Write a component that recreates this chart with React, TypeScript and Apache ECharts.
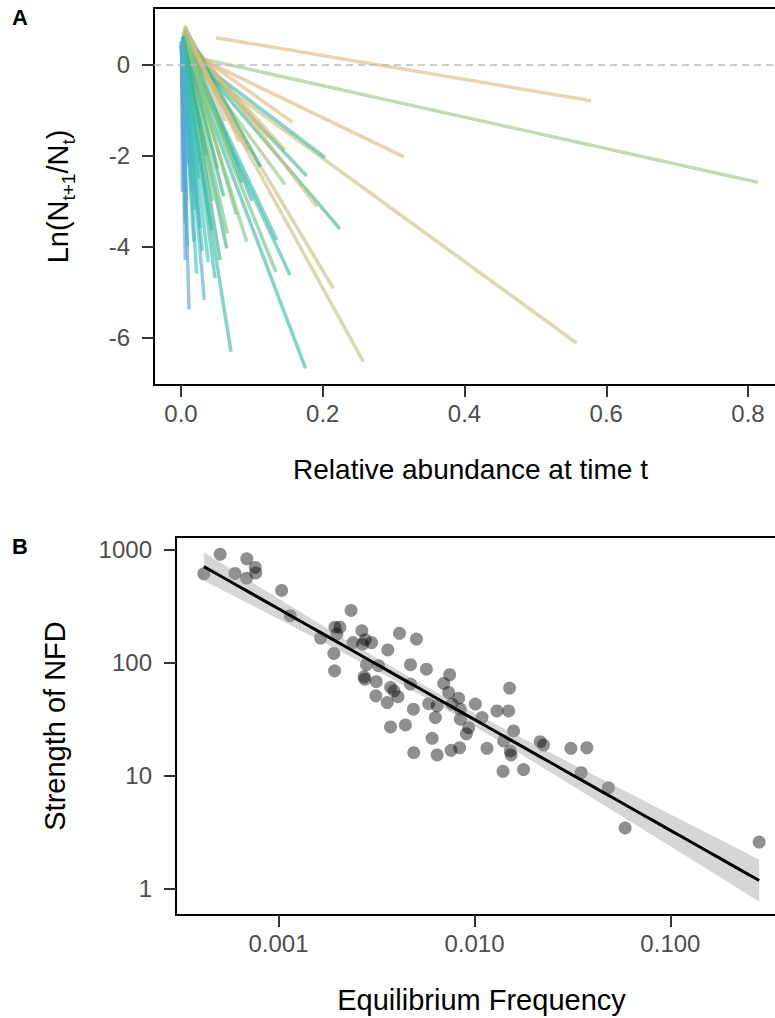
import React, { useEffect, useRef } from "react";
import * as echarts from "echarts";

const FONT = "'Liberation Sans', Arial, Helvetica, sans-serif";

// ---------- Panel A: one fitted segment per species ----------
const segStartX = [0.0494, 0.0028, 0.0028, 0.0169, 0.0099, 0.0071, 0.0028, 0.0028, 0.0028, 0.0028, 0.0071, 0.0028, 0.0028, 0.0042, 0.0042, 0.0028, 0.0014, 0.0007, 0.0014, 0.0014, 0.0007, 0.0014, 0.0014, 0.0028, 0.0028, 0.0028, 0.0028, 0.0042, 0.0007, 0.0007, 0.0007, 0.0014, 0.0014, 0.0021, 0.0021, 0.0028, 0.0028, 0.0035, 0.0035, 0.0042, 0.0042, 0.0049, 0.0056, 0.0056, 0.0049, 0.0042, 0.0028, 0.0014, 0.0021, 0.0014, 0.0035, 0.0042, 0.0007, 0.0021, 0.0035, 0.0028, 0.0007, 0.0007, 0.0014];
const segStartY = [0.585, 0.213, 0.171, 0.204, 0.358, 0.534, 0.314, 0.424, 0.424, 0.424, 0.644, 0.424, 0.49, 0.578, 0.622, 0.424, 0.424, 0.446, 0.446, 0.446, 0.446, 0.446, 0.49, 0.534, 0.534, 0.578, 0.534, 0.644, 0.42, 0.45, 0.4, 0.48, 0.5, 0.55, 0.5, 0.6, 0.6, 0.65, 0.65, 0.7, 0.7, 0.75, 0.8, 0.82, 0.86, 0.8, 0.7, 0.5, 0.52, 0.47, 0.7, 0.75, 0.5, 0.6, 0.62, 0.58, 0.5, 0.45, 0.5];
const segEndX = [0.5785, 0.8137, 0.5583, 0.3146, 0.1576, 0.1467, 0.2032, 0.1774, 0.1467, 0.2243, 0.1915, 0.1538, 0.134, 0.2149, 0.2572, 0.1757, 0.0705, 0.0113, 0.0329, 0.0385, 0.0056, 0.0268, 0.0433, 0.0645, 0.0653, 0.0927, 0.135, 0.1232, 0.004, 0.008, 0.006, 0.015, 0.02, 0.025, 0.03, 0.035, 0.045, 0.052, 0.06, 0.078, 0.086, 0.1, 0.112, 0.082, 0.062, 0.05, 0.04, 0.012, 0.022, 0.018, 0.095, 0.07, 0.003, 0.028, 0.055, 0.048, 0.002, 0.009, 0.01];
const segEndY = [-0.8, -2.593, -6.13, -2.035, -1.275, -1.884, -2.048, -2.455, -2.642, -3.615, -3.13, -4.63, -4.565, -4.923, -6.536, -6.681, -6.316, -5.385, -5.18, -4.338, -3.494, -3.604, -3.642, -4.044, -3.714, -3.899, -3.862, -1.591, -2.3, -3.0, -4.3, -2.8, -3.2, -2.5, -4.1, -2.0, -3.0, -2.3, -2.9, -3.3, -2.6, -3.0, -2.25, -1.7, -1.25, -0.65, -1.05, -1.6, -4.6, -3.9, -1.9, -2.0, -1.2, -1.4, -4.3, -4.7, -2.8, -4.0, -2.2];
// colour variable of each segment (0 = blue ... 1 = tan)
const segColorValue = [1.0, 0.72, 0.88, 0.95, 1.0, 0.97, 0.38, 0.55, 0.7, 0.45, 0.95, 0.36, 0.62, 0.85, 0.85, 0.4, 0.38, 0.05, 0.2, 0.3, 0.0, 0.15, 0.42, 0.5, 0.62, 0.66, 0.36, 0.98, 0.0, 0.05, 0.08, 0.18, 0.3, 0.35, 0.33, 0.5, 0.65, 0.68, 0.5, 0.66, 0.55, 0.38, 0.5, 0.98, 0.9, 1.0, 0.7, 0.2, 0.34, 0.25, 0.95, 0.68, 0.05, 0.35, 0.5, 0.36, 0.02, 0.1, 0.12];

const aXTicks = [0, 0.2, 0.4, 0.6, 0.8];
const aYTicks = [-6, -4, -2, 0];

// ---------- Panel B: equilibrium frequency vs strength of NFD ----------
const eqFreq = [0.000416, 0.000504, 0.0006, 0.000689, 0.000761, 0.000765, 0.000687, 0.001038, 0.001148, 0.002346, 0.001941, 0.002057, 0.001986, 0.001641, 0.002663, 0.002773, 0.002985, 0.002685, 0.002402, 0.001917, 0.001933, 0.002734, 0.00276, 0.002815, 0.003239, 0.003157, 0.003613, 0.004144, 0.005058, 0.004716, 0.005689, 0.003731, 0.003886, 0.004072, 0.003589, 0.003139, 0.004883, 0.006969, 0.007475, 0.005844, 0.006449, 0.004716, 0.007387, 0.008307, 0.006321, 0.007687, 0.008476, 0.01011, 0.008476, 0.01093, 0.01511, 0.01303, 0.01494, 0.003731, 0.004446, 0.009344, 0.009094, 0.01584, 0.01409, 0.006081, 0.004901, 0.006449, 0.007597, 0.008405, 0.01159, 0.01524, 0.01537, 0.01399, 0.01781, 0.02166, 0.02252, 0.03105, 0.03748, 0.03506, 0.04829, 0.05872, 0.2838];
const nfdStrength = [607, 904, 612, 824, 692, 619, 556, 433, 259, 288, 205, 205, 178, 164, 191, 159, 150, 145, 150, 120, 84.3, 74.6, 71.0, 95.5, 93.5, 67.6, 129, 181, 161, 95.5, 87.1, 60.3, 56.1, 49.8, 44.2, 50.7, 38.6, 65.2, 77.8, 43.2, 41.3, 64.3, 54.2, 48.3, 32.5, 42.8, 38.6, 42.8, 31.5, 32.5, 59.3, 37.2, 37.2, 26.9, 28.0, 26.5, 23.4, 24.8, 20.2, 21.3, 15.9, 15.2, 16.7, 17.6, 17.4, 16.5, 15.2, 10.9, 11.3, 19.9, 18.6, 17.4, 17.6, 10.6, 7.78, 3.44, 2.58];

const bXTicks = [0.001, 0.01, 0.1];
const bXTickLabels = ["0.001", "0.010", "0.100"];
const bYTicks = [1, 10, 100, 1000];
const bYTickLabels = ["1", "10", "100", "1000"];

// palette for panel A
const paletteStops = [0, 0.3, 0.5, 0.7, 0.85, 1];
const paletteColors = ["#5f9fdb", "#3dbfc0", "#35b386", "#94c77c", "#c5bf80", "#dbba7e"];

function hexToRgb(h: string) {
  const n = parseInt(h.slice(1), 16);
  return [(n >> 16) & 255, (n >> 8) & 255, n & 255];
}
function colorFor(v: number) {
  for (let i = 0; i < paletteStops.length - 1; i++) {
    if (v <= paletteStops[i + 1]) {
      const t = (v - paletteStops[i]) / (paletteStops[i + 1] - paletteStops[i]);
      const a = hexToRgb(paletteColors[i]);
      const b = hexToRgb(paletteColors[i + 1]);
      const c = a.map((x, k) => Math.round(x + (b[k] - x) * t));
      return `rgb(${c[0]},${c[1]},${c[2]})`;
    }
  }
  return paletteColors[paletteColors.length - 1];
}

// linear model on log10 scales (as geom_smooth(method = "lm"))
function fitModel() {
  const lx = eqFreq.map((v) => Math.log10(v));
  const ly = nfdStrength.map((v) => Math.log10(v));
  const n = lx.length;
  const mx = lx.reduce((s, v) => s + v, 0) / n;
  const my = ly.reduce((s, v) => s + v, 0) / n;
  let sxx = 0, sxy = 0;
  for (let i = 0; i < n; i++) {
    sxx += (lx[i] - mx) ** 2;
    sxy += (lx[i] - mx) * (ly[i] - my);
  }
  const b = sxy / sxx;
  const a = my - b * mx;
  let sse = 0;
  for (let i = 0; i < n; i++) sse += (ly[i] - a - b * lx[i]) ** 2;
  const s = Math.sqrt(sse / (n - 2));
  const tq = 1.9925;
  const x0 = Math.min(...lx), x1 = Math.max(...lx);
  const line: number[][] = [], lo: number[][] = [], hi: number[][] = [];
  for (let k = 0; k < 80; k++) {
    const x = x0 + ((x1 - x0) * k) / 79;
    const yh = a + b * x;
    const se = s * Math.sqrt(1 / n + (x - mx) ** 2 / sxx);
    line.push([x, yh]);
    lo.push([x, yh - tq * se]);
    hi.push([x, yh + tq * se]);
  }
  return { lx, ly, line, lo, hi };
}

const axisBase = {
  axisLine: { show: true, onZero: false, lineStyle: { color: "#000", width: 2 } },
  axisTick: { show: true, length: 12, lineStyle: { color: "#333", width: 2 } },
  splitLine: { show: false },
};
const tickLabel = { color: "#4d4d4d", fontSize: 24, fontFamily: FONT };
const titleStyle = { color: "#000", fontSize: 29, fontFamily: FONT };

export default function App() {
  const ref = useRef<HTMLDivElement>(null);
  useEffect(() => {
    if (!ref.current) return;
    const chart = echarts.init(ref.current, undefined, { renderer: "svg" });
    const { lx, ly, line, lo, hi } = fitModel();

    const segData = segStartX.map((_, i) => ({
      coords: [
        [segStartX[i], segStartY[i]],
        [segEndX[i], segEndY[i]],
      ],
      lineStyle: { color: colorFor(segColorValue[i]) },
    }));

    const bxLog = bXTicks.map((v) => Math.log10(v));
    const byLog = bYTicks.map((v) => Math.log10(v));
    const labelFrom = (vals: number[], labels: string[]) => (v: number) => {
      let best = 0;
      vals.forEach((t, i) => {
        if (Math.abs(t - v) < Math.abs(vals[best] - v)) best = i;
      });
      return labels[best];
    };

    chart.setOption({
      animation: false,
      backgroundColor: "#fff",
      textStyle: { fontFamily: FONT },
      grid: [
        { left: 154, top: 8, width: 633, height: 377 },
        { left: 176, top: 537, width: 611, height: 378 },
      ],
      xAxis: [
        {
          ...axisBase,
          type: "value",
          gridIndex: 0,
          min: -0.0381,
          max: 0.855,
          axisTick: { ...axisBase.axisTick, customValues: aXTicks },
          axisLabel: { ...tickLabel, margin: 16, customValues: aXTicks, formatter: (v: number) => v.toFixed(1) },
          name: "Relative abundance at time t",
          nameLocation: "middle",
          nameGap: 70,
          nameTextStyle: { ...titleStyle, fontSize: 28 },
        },
        {
          type: "value",
          gridIndex: 0,
          position: "top",
          min: -0.0381,
          max: 0.855,
          axisLine: { show: true, onZero: false, lineStyle: { color: "#000", width: 2 } },
          axisTick: { show: false },
          axisLabel: { show: false },
          splitLine: { show: false },
        },
        {
          ...axisBase,
          type: "value",
          gridIndex: 1,
          min: -3.523,
          max: -0.405,
          axisTick: { ...axisBase.axisTick, customValues: bxLog },
          axisLabel: { ...tickLabel, margin: 16, customValues: bxLog, formatter: labelFrom(bxLog, bXTickLabels) },
          name: "Equilibrium Frequency",
          nameLocation: "middle",
          nameGap: 70,
          nameTextStyle: titleStyle,
        },
        {
          type: "value",
          gridIndex: 1,
          position: "top",
          min: -3.523,
          max: -0.405,
          axisLine: { show: true, onZero: false, lineStyle: { color: "#000", width: 2 } },
          axisTick: { show: false },
          axisLabel: { show: false },
          splitLine: { show: false },
        },
      ],
      yAxis: [
        {
          ...axisBase,
          type: "value",
          gridIndex: 0,
          min: -7.048,
          max: 1.237,
          axisTick: { ...axisBase.axisTick, customValues: aYTicks },
          axisLabel: { ...tickLabel, margin: 24, customValues: aYTicks, formatter: (v: number) => String(v) },
          name: "{n|Ln(N}{s|t+1}{n|/N}{s|t}{n|)}",
          nameLocation: "middle",
          nameRotate: 90,
          nameGap: 76,
          nameTextStyle: {
            rich: {
              n: { fontSize: 29, fontFamily: FONT, color: "#000", lineHeight: 40 },
              s: { fontSize: 19, fontFamily: FONT, color: "#000", lineHeight: 40, verticalAlign: "bottom" },
            },
          },
        },
        {
          ...axisBase,
          type: "value",
          gridIndex: 1,
          min: -0.2334,
          max: 3.109,
          axisTick: { ...axisBase.axisTick, customValues: byLog },
          axisLabel: { ...tickLabel, margin: 24, customValues: byLog, formatter: labelFrom(byLog, bYTickLabels) },
          name: "Strength of NFD",
          nameLocation: "middle",
          nameRotate: 90,
          nameGap: 107,
          nameTextStyle: titleStyle,
        },
      ],
      series: [
        {
          type: "line",
          xAxisIndex: 0,
          yAxisIndex: 0,
          data: [],
          z: 1,
          markLine: {
            silent: true,
            symbol: "none",
            label: { show: false },
            lineStyle: { color: "#bdbdbd", width: 1.5, type: [7, 5] },
            data: [{ yAxis: 0 }],
          },
        },
        {
          type: "lines",
          coordinateSystem: "cartesian2d",
          xAxisIndex: 0,
          yAxisIndex: 0,
          polyline: false,
          silent: true,
          z: 2,
          lineStyle: { width: 3.5, opacity: 0.62 },
          data: segData,
        },
        {
          type: "scatter",
          xAxisIndex: 2,
          yAxisIndex: 1,
          symbolSize: 13,
          itemStyle: { color: "rgba(0,0,0,0.55)", borderWidth: 0 },
          data: lx.map((x, i) => [x, ly[i]]),
          z: 2,
        },
        {
          type: "custom",
          xAxisIndex: 2,
          yAxisIndex: 1,
          silent: true,
          z: 3,
          data: [0],
          renderItem: (_params: any, api: any) => {
            const pts: number[][] = [];
            hi.forEach((p) => pts.push(api.coord(p)));
            for (let i = lo.length - 1; i >= 0; i--) pts.push(api.coord(lo[i]));
            return {
              type: "polygon",
              shape: { points: pts },
              style: { fill: "rgba(153,153,153,0.4)", stroke: "none" },
            };
          },
        },
        {
          type: "line",
          xAxisIndex: 2,
          yAxisIndex: 1,
          showSymbol: false,
          silent: true,
          z: 4,
          lineStyle: { color: "#000", width: 3 },
          data: line,
        },
      ],
      graphic: [
        { type: "text", left: 12, top: 6, style: { text: "A", fontSize: 22, fontWeight: "bold", fontFamily: FONT, fill: "#000" } },
        { type: "text", left: 12, top: 535, style: { text: "B", fontSize: 22, fontWeight: "bold", fontFamily: FONT, fill: "#000" } },
      ],
    });
    return () => chart.dispose();
  }, []);

  return (
    <div style={{ position: "absolute", left: 0, top: 0, width: 775, height: 1018, overflow: "hidden", background: "#fff" }}>
      <div ref={ref} style={{ width: 800, height: 1018 }} />
    </div>
  );
}
